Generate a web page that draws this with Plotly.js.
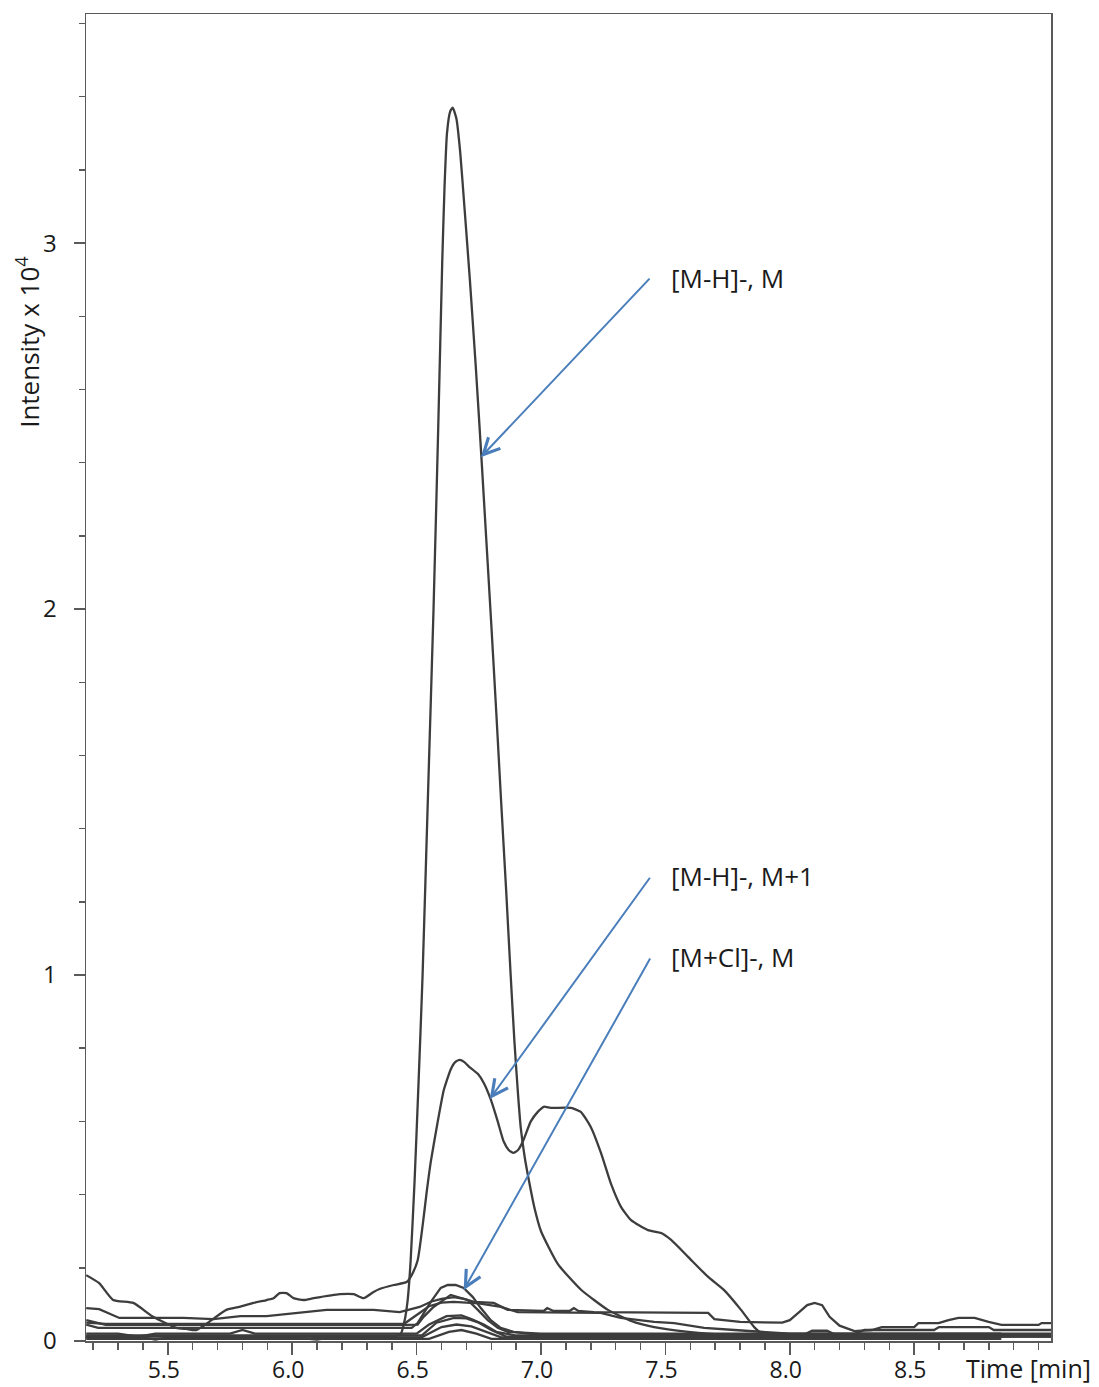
<!DOCTYPE html>
<html>
<head>
<meta charset="utf-8">
<script src="https://cdn.plot.ly/plotly-3.0.1.min.js"></script>
<style>
  html, body { margin: 0; padding: 0; background: #ffffff; }
  #chart { width: 1099px; height: 1387px; }
</style>
</head>
<body>
<div id="chart"></div>
<script>
// Extracted ion chromatograms, retention time in minutes, intensity in units of 10^4

// [M-H]-, M  (main peak)
const mhM_time = [5.17, 5.6, 6.0, 6.4, 6.436, 6.452, 6.464, 6.476, 6.492, 6.508, 6.524, 6.546, 6.568, 6.587, 6.603, 6.612, 6.622, 6.635, 6.645, 6.66, 6.675, 6.692, 6.714, 6.738, 6.76, 6.78, 6.8, 6.82, 6.84, 6.86, 6.878, 6.893, 6.907, 6.919, 6.935, 6.951, 6.975, 7.0, 7.068, 7.161, 7.269, 7.362, 7.455, 7.592, 7.697, 8.0, 8.5, 9.06];
const mhM_int  = [0.012, 0.012, 0.012, 0.012, 0.019, 0.057, 0.112, 0.22, 0.44, 0.71, 1.0, 1.5, 2.0, 2.5, 2.95, 3.15, 3.3, 3.36, 3.37, 3.34, 3.25, 3.1, 2.9, 2.66, 2.42, 2.19, 1.96, 1.72, 1.47, 1.23, 1.0, 0.82, 0.68, 0.58, 0.5, 0.44, 0.36, 0.30, 0.21, 0.14, 0.085, 0.055, 0.038, 0.025, 0.019, 0.012, 0.012, 0.012];

// [M-H]-, M+1
const mhM1_time = [5.172, 5.224, 5.28, 5.361, 5.441, 5.534, 5.574, 5.615, 5.735, 5.788, 5.844, 5.897, 5.925, 5.949, 5.977, 6.005, 6.046, 6.086, 6.191, 6.247, 6.287, 6.327, 6.351, 6.408, 6.46, 6.48, 6.504, 6.525, 6.541, 6.557, 6.585, 6.609, 6.637, 6.655, 6.673, 6.692, 6.71, 6.746, 6.77, 6.798, 6.826, 6.85, 6.87, 6.889, 6.908, 6.927, 6.959, 6.987, 7.011, 7.039, 7.12, 7.16, 7.2, 7.241, 7.281, 7.322, 7.362, 7.43, 7.483, 7.523, 7.591, 7.672, 7.736, 7.804, 7.857, 7.885, 8.0, 8.5, 9.06];
const mhM1_int  = [0.180, 0.158, 0.112, 0.104, 0.066, 0.036, 0.033, 0.030, 0.085, 0.093, 0.104, 0.112, 0.117, 0.131, 0.131, 0.117, 0.112, 0.117, 0.128, 0.128, 0.117, 0.134, 0.142, 0.153, 0.161, 0.18, 0.22, 0.32, 0.41, 0.49, 0.60, 0.685, 0.742, 0.762, 0.768, 0.762, 0.75, 0.73, 0.705, 0.66, 0.60, 0.545, 0.522, 0.514, 0.522, 0.545, 0.60, 0.626, 0.64, 0.637, 0.637, 0.626, 0.585, 0.514, 0.43, 0.366, 0.33, 0.303, 0.295, 0.276, 0.23, 0.175, 0.139, 0.085, 0.038, 0.022, 0.018, 0.018, 0.018];

// [M+Cl]-, M
const mclM_time = [5.172, 5.22, 6.48, 6.504, 6.557, 6.597, 6.625, 6.657, 6.689, 6.726, 6.758, 6.798, 6.838, 6.89, 7.0, 8.25, 8.3, 8.58, 8.6, 8.8, 8.82, 9.06];
const mclM_int  = [0.045, 0.036, 0.036, 0.049, 0.107, 0.145, 0.153, 0.153, 0.145, 0.12, 0.09, 0.057, 0.036, 0.025, 0.016, 0.016, 0.03, 0.03, 0.038, 0.038, 0.03, 0.03];

// further traces: adducts and isotopes with low response
const ion4_time = [5.172, 5.224, 5.305, 5.563, 5.683, 5.792, 5.897, 5.977, 6.058, 6.138, 6.327, 6.432, 6.512, 6.56, 6.6, 6.65, 6.69, 6.731, 6.81, 6.866, 7.011, 7.025, 7.05, 7.115, 7.132, 7.15, 7.212, 7.672, 7.697, 7.8, 7.97, 8.0, 8.04, 8.07, 8.1, 8.13, 8.16, 8.2, 8.26, 8.33, 8.37, 8.5, 8.517, 8.598, 8.638, 8.678, 8.743, 8.799, 8.851, 9.0, 9.012, 9.06];
const ion4_int  = [0.090, 0.087, 0.063, 0.063, 0.060, 0.068, 0.068, 0.074, 0.079, 0.085, 0.085, 0.079, 0.093, 0.108, 0.115, 0.12, 0.115, 0.107, 0.104, 0.085, 0.082, 0.09, 0.082, 0.082, 0.09, 0.082, 0.079, 0.077, 0.06, 0.052, 0.05, 0.057, 0.08, 0.098, 0.104, 0.098, 0.066, 0.042, 0.027, 0.03, 0.038, 0.038, 0.049, 0.049, 0.057, 0.063, 0.063, 0.052, 0.044, 0.044, 0.049, 0.049];

const ion5_time = [5.172, 5.25, 6.45, 6.5, 6.55, 6.6, 6.649, 6.75, 6.839, 6.906, 7.0, 7.24, 7.32, 7.39, 7.455, 7.535, 7.59, 7.656, 7.777, 7.885, 8.0, 8.85];
const ion5_int  = [0.05, 0.047, 0.047, 0.07, 0.095, 0.105, 0.107, 0.103, 0.093, 0.079, 0.079, 0.077, 0.063, 0.057, 0.052, 0.049, 0.044, 0.036, 0.03, 0.025, 0.02, 0.02];

const ion6_time = [5.172, 5.25, 6.46, 6.504, 6.528, 6.568, 6.637, 6.705, 6.746, 6.786, 6.826, 6.866, 7.0, 9.06];
const ion6_int  = [0.057, 0.044, 0.044, 0.045, 0.066, 0.093, 0.126, 0.112, 0.085, 0.057, 0.036, 0.025, 0.02, 0.02];

const ion7_time = [5.172, 5.3, 5.38, 5.45, 5.75, 5.8, 5.85, 6.5, 6.55, 6.62, 6.68, 6.72, 6.77, 6.82, 6.9, 8.05, 8.09, 8.15, 8.19, 9.06];
const ion7_int  = [0.02, 0.02, 0.012, 0.02, 0.02, 0.03, 0.02, 0.02, 0.045, 0.068, 0.07, 0.06, 0.045, 0.025, 0.015, 0.015, 0.028, 0.028, 0.015, 0.015];

const ion8_time = [5.172, 6.52, 6.58, 6.65, 6.7, 6.75, 6.8, 6.86, 9.06];
const ion8_int  = [0.015, 0.015, 0.05, 0.063, 0.062, 0.05, 0.03, 0.012, 0.012];

const ion9_time = [5.172, 5.4, 5.45, 5.5, 6.0, 6.1, 6.15, 6.52, 6.6, 6.66, 6.72, 6.78, 6.84, 8.85];
const ion9_int  = [0.01, 0.01, 0.004, 0.01, 0.01, 0.004, 0.01, 0.01, 0.038, 0.045, 0.04, 0.025, 0.01, 0.01];

const ion10_time = [5.172, 6.55, 6.63, 6.68, 6.74, 6.8, 8.85];
const ion10_int  = [0.006, 0.006, 0.025, 0.03, 0.02, 0.006, 0.006];

// axis ticks
const timeTicks = [5.5, 6.0, 6.5, 7.0, 7.5, 8.0, 8.5];
const timeTickText = ['5.5', '6.0', '6.5', '7.0', '7.5', '8.0', '8.5'];
const intTicks = [0, 1, 2, 3];

// annotation labels
const labelText = ["[M-H]-, M", "[M-H]-, M+1", "[M+Cl]-, M"];
const labelTime = [7.515, 7.515, 7.515];
const labelInt  = [2.904, 1.270, 1.049];
const arrowTailTime = [7.442, 7.442, 7.442];
const arrowTailInt  = [2.907, 1.270, 1.049];
const arrowTipTime  = [6.758, 6.794, 6.689];
const arrowTipInt   = [2.415, 0.661, 0.139];

const lineColor = '#3d3d3d';
const series = [
  [mhM_time, mhM_int, 'spline'],
  [mhM1_time, mhM1_int, 'spline'],
  [mclM_time, mclM_int, 'linear'],
  [ion4_time, ion4_int, 'linear'],
  [ion5_time, ion5_int, 'linear'],
  [ion6_time, ion6_int, 'linear'],
  [ion7_time, ion7_int, 'linear'],
  [ion8_time, ion8_int, 'linear'],
  [ion9_time, ion9_int, 'linear'],
  [ion10_time, ion10_int, 'linear']
];

const traces = series.map(s => ({
  x: s[0], y: s[1], type: 'scatter', mode: 'lines',
  line: { color: lineColor, width: 2.3, shape: s[2], smoothing: 0.5 },
  hoverinfo: 'skip', showlegend: false
}));

const baseFont = { family: 'Open Sans, Noto Sans, sans-serif', color: '#1a1a1a' };
const arrowColor = '#4a7ebb';

const annotations = [];
for (let i = 0; i < labelText.length; i++) {
  annotations.push({
    x: arrowTipTime[i], y: arrowTipInt[i], xref: 'x', yref: 'y',
    ax: arrowTailTime[i], ay: arrowTailInt[i], axref: 'x', ayref: 'y',
    text: '', showarrow: true, arrowhead: 5, arrowsize: 1.6, arrowwidth: 2,
    arrowcolor: arrowColor, standoff: 0, startstandoff: 0
  });
  annotations.push({
    x: labelTime[i], y: labelInt[i], xref: 'x', yref: 'y',
    text: labelText[i], showarrow: false, xanchor: 'left', yanchor: 'middle',
    font: Object.assign({}, baseFont, { size: 26 })
  });
}
annotations.push({
  x: -0.06, y: 0.753, xref: 'paper', yref: 'paper',
  text: 'Intensity x 10<sup>4</sup>', textangle: -90, showarrow: false,
  xanchor: 'center', yanchor: 'middle',
  font: Object.assign({}, baseFont, { size: 26 })
});
annotations.push({
  x: 0.9767, y: -0.02, xref: 'paper', yref: 'paper',
  text: 'Time [min]', showarrow: false, xanchor: 'center', yanchor: 'middle',
  font: Object.assign({}, baseFont, { size: 25 })
});

const axisColor = '#5a5a5a';
const layout = {
  width: 1099, height: 1387,
  margin: { l: 86, r: 48, t: 14, b: 46 },
  paper_bgcolor: '#ffffff', plot_bgcolor: '#ffffff',
  showlegend: false,
  font: baseFont,
  xaxis: {
    range: [5.171, 9.05], tickmode: 'array', tickvals: timeTicks, ticktext: timeTickText,
    ticks: 'outside', ticklen: 12, tickwidth: 1.5, tickcolor: axisColor,
    showline: true, linecolor: axisColor, linewidth: 1.5, mirror: true,
    showgrid: false, zeroline: false, ticklabelstandoff: -4, ticklabelshift: -4,
    tickfont: Object.assign({}, baseFont, { size: 23 }),
    minor: { tickmode: 'linear', tick0: 5.0, dtick: 0.1, ticks: 'outside', ticklen: 7, tickwidth: 1.5, tickcolor: axisColor, showgrid: false }
  },
  yaxis: {
    range: [0, 3.626], tickmode: 'array', tickvals: intTicks, ticktext: intTicks.map(String),
    ticks: 'outside', ticklen: 11, tickwidth: 1.5, tickcolor: axisColor,
    showline: true, linecolor: axisColor, linewidth: 1.5, mirror: true,
    showgrid: false, zeroline: false, ticklabelstandoff: 12,
    tickfont: Object.assign({}, baseFont, { size: 24 }),
    minor: { tickmode: 'linear', tick0: 0, dtick: 0.2, ticks: 'outside', ticklen: 6, tickwidth: 1.5, tickcolor: axisColor, showgrid: false }
  },
  annotations: annotations
};

Plotly.newPlot('chart', traces, layout, { staticPlot: true, displayModeBar: false });
</script>
</body>
</html>
